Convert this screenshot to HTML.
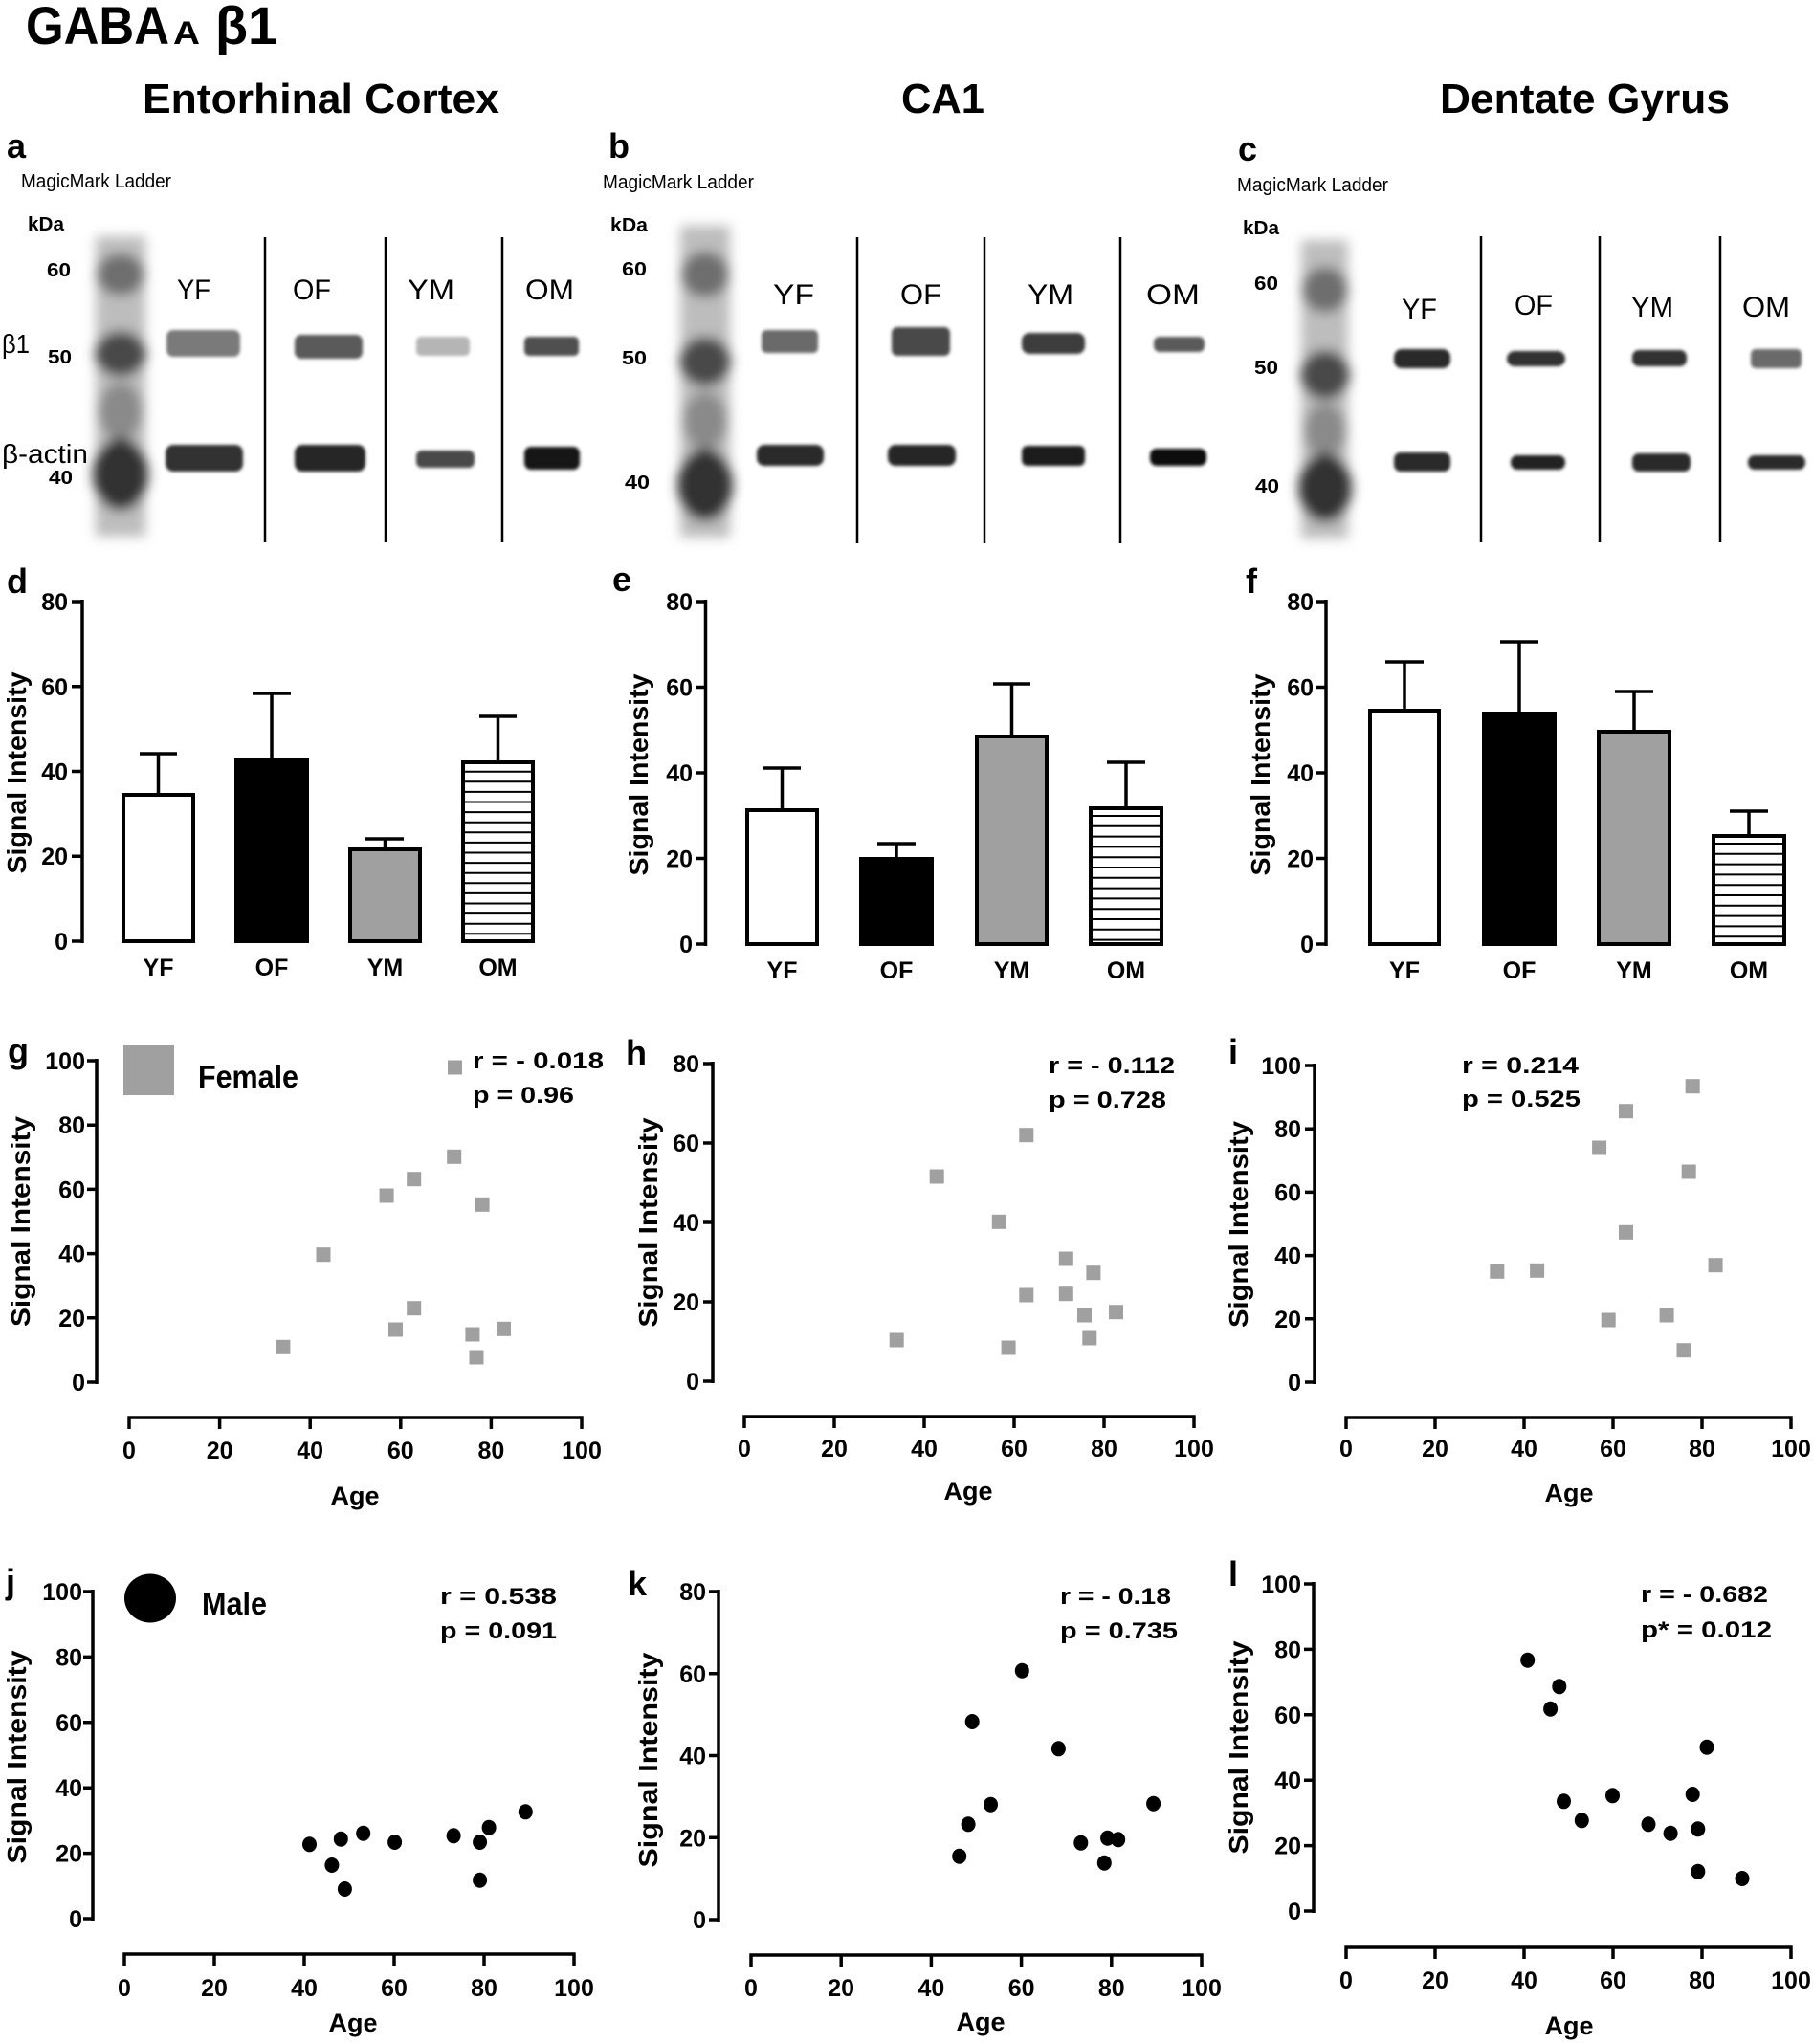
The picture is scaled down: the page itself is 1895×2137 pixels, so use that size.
<!DOCTYPE html>
<html><head><meta charset="utf-8">
<style>
html,body{margin:0;padding:0;background:#fff;}
svg{display:block;}
text{font-family:"Liberation Sans",Arial,sans-serif;fill:#000;}
.tkr{font-weight:bold;font-size:25px;text-anchor:end;}
.tkm{font-weight:bold;font-size:25px;text-anchor:middle;}
.yt{font-weight:bold;font-size:28px;text-anchor:middle;}
.age{font-weight:bold;font-size:27px;text-anchor:middle;}
.st{font-weight:bold;font-size:24px;}
.pl{font-weight:bold;font-size:36px;}
.ln{font-size:30px;}
.mm{font-size:20px;}
.kd{font-weight:bold;font-size:20px;}
.ax{stroke:#000;stroke-width:3.5;fill:none;}
.dv{stroke:#000;stroke-width:2.5;}
.bar{stroke:#000;stroke-width:4;}
.sq{fill:#a0a0a0;}
</style></head><body>
<svg width="1895" height="2137" viewBox="0 0 1895 2137" xmlns="http://www.w3.org/2000/svg">
<defs>
<filter id="bl6" x="-60%" y="-20%" width="220%" height="140%"><feGaussianBlur stdDeviation="6"/></filter>
<filter id="bl2" x="-20%" y="-60%" width="140%" height="220%"><feGaussianBlur stdDeviation="1.5"/></filter>
</defs>
<rect width="1895" height="2137" fill="#fff"/>

<!-- Title -->
<text x="27" y="46" font-weight="bold" font-size="56" textLength="150" lengthAdjust="spacingAndGlyphs">GABA</text>
<text x="181" y="46" font-weight="bold" font-size="34" textLength="28" lengthAdjust="spacingAndGlyphs">A</text>
<text x="225" y="46" font-weight="bold" font-size="56" textLength="65" lengthAdjust="spacingAndGlyphs">β1</text>

<text x="149" y="118" font-weight="bold" font-size="44" textLength="373" lengthAdjust="spacingAndGlyphs">Entorhinal Cortex</text>
<text x="942" y="118" font-weight="bold" font-size="44" textLength="87" lengthAdjust="spacingAndGlyphs">CA1</text>
<text x="1505" y="118" font-weight="bold" font-size="44" textLength="303" lengthAdjust="spacingAndGlyphs">Dentate Gyrus</text>

<!-- ===== Panel a blot ===== -->
<text class="pl" x="7" y="165">a</text>
<text class="mm" x="22" y="196" textLength="157" lengthAdjust="spacingAndGlyphs">MagicMark Ladder</text>
<text class="kd" x="29" y="241" textLength="38" lengthAdjust="spacingAndGlyphs">kDa</text>
<text class="kd" x="49" y="289" textLength="25" lengthAdjust="spacingAndGlyphs">60</text>
<text class="kd" x="50" y="380" textLength="25" lengthAdjust="spacingAndGlyphs">50</text>
<text class="kd" x="51" y="506" textLength="25" lengthAdjust="spacingAndGlyphs">40</text>
<text x="2" y="369" font-size="28" textLength="29" lengthAdjust="spacingAndGlyphs">β1</text>
<text x="2" y="484" font-size="28" textLength="90" lengthAdjust="spacingAndGlyphs">β-actin</text>
<g filter="url(#bl6)">
<rect x="100" y="247" width="52" height="314" fill="#bdbdbd"/>
<ellipse cx="126" cy="287" rx="25" ry="22" fill="#6e6e6e"/>
<ellipse cx="126" cy="370" rx="27" ry="24" fill="#4a4a4a"/>
<ellipse cx="126" cy="430" rx="23" ry="30" fill="#8a8a8a"/>
<ellipse cx="126" cy="496" rx="29" ry="38" fill="#333"/>
</g>
<text class="ln" x="185" y="313" textLength="35" lengthAdjust="spacingAndGlyphs">YF</text>
<text class="ln" x="306" y="313" textLength="40" lengthAdjust="spacingAndGlyphs">OF</text>
<text class="ln" x="426" y="313" textLength="49" lengthAdjust="spacingAndGlyphs">YM</text>
<text class="ln" x="549" y="313" textLength="51" lengthAdjust="spacingAndGlyphs">OM</text>
<line class="dv" x1="277" y1="248" x2="277" y2="567"/>
<line class="dv" x1="403" y1="248" x2="403" y2="567"/>
<line class="dv" x1="525" y1="248" x2="525" y2="567"/>
<g filter="url(#bl2)">
<rect x="174" y="345" width="77" height="28" rx="7" fill="#7a7a7a"/>
<rect x="308" y="350" width="71" height="25" rx="7" fill="#5a5a5a"/>
<rect x="435" y="352" width="56" height="20" rx="5" fill="#b5b5b5"/>
<rect x="548" y="352" width="57" height="20" rx="5" fill="#505050"/>
<rect x="173" y="465" width="81" height="28" rx="8" fill="#333"/>
<rect x="308" y="465" width="74" height="28" rx="8" fill="#262626"/>
<rect x="435" y="471" width="61" height="18" rx="6" fill="#4a4a4a"/>
<rect x="548" y="467" width="58" height="24" rx="7" fill="#141414"/>
</g>

<!-- ===== Panel b blot ===== -->
<text class="pl" x="636" y="165">b</text>
<text class="mm" x="630" y="197" textLength="158" lengthAdjust="spacingAndGlyphs">MagicMark Ladder</text>
<text class="kd" x="638" y="242" textLength="39" lengthAdjust="spacingAndGlyphs">kDa</text>
<text class="kd" x="650" y="288" textLength="26" lengthAdjust="spacingAndGlyphs">60</text>
<text class="kd" x="650" y="381" textLength="26" lengthAdjust="spacingAndGlyphs">50</text>
<text class="kd" x="653" y="511" textLength="26" lengthAdjust="spacingAndGlyphs">40</text>
<g filter="url(#bl6)">
<rect x="711" y="236" width="52" height="326" fill="#bdbdbd"/>
<ellipse cx="737" cy="287" rx="25" ry="24" fill="#6e6e6e"/>
<ellipse cx="737" cy="378" rx="27" ry="26" fill="#4a4a4a"/>
<ellipse cx="737" cy="440" rx="23" ry="30" fill="#8a8a8a"/>
<ellipse cx="737" cy="507" rx="29" ry="38" fill="#333"/>
</g>
<text class="ln" x="808" y="318" textLength="43" lengthAdjust="spacingAndGlyphs">YF</text>
<text class="ln" x="941" y="318" textLength="43" lengthAdjust="spacingAndGlyphs">OF</text>
<text class="ln" x="1074" y="318" textLength="48" lengthAdjust="spacingAndGlyphs">YM</text>
<text class="ln" x="1198" y="318" textLength="56" lengthAdjust="spacingAndGlyphs">OM</text>
<line class="dv" x1="896" y1="248" x2="896" y2="568"/>
<line class="dv" x1="1029" y1="248" x2="1029" y2="568"/>
<line class="dv" x1="1171" y1="248" x2="1171" y2="568"/>
<g filter="url(#bl2)">
<rect x="796" y="345" width="59" height="24" rx="5" fill="#6a6a6a"/>
<rect x="932" y="342" width="61" height="30" rx="6" fill="#4a4a4a"/>
<rect x="1068" y="348" width="66" height="22" rx="8" fill="#3c3c3c"/>
<rect x="1206" y="352" width="53" height="16" rx="6" fill="#5a5a5a"/>
<rect x="791" y="465" width="70" height="22" rx="8" fill="#2c2c2c"/>
<rect x="928" y="465" width="71" height="22" rx="8" fill="#262626"/>
<rect x="1068" y="466" width="66" height="21" rx="6" fill="#1e1e1e"/>
<rect x="1202" y="469" width="59" height="18" rx="7" fill="#0e0e0e"/>
</g>

<!-- ===== Panel c blot ===== -->
<text class="pl" x="1294" y="168">c</text>
<text class="mm" x="1293" y="200" textLength="158" lengthAdjust="spacingAndGlyphs">MagicMark Ladder</text>
<text class="kd" x="1299" y="245" textLength="38" lengthAdjust="spacingAndGlyphs">kDa</text>
<text class="kd" x="1311" y="303" textLength="25" lengthAdjust="spacingAndGlyphs">60</text>
<text class="kd" x="1311" y="391" textLength="25" lengthAdjust="spacingAndGlyphs">50</text>
<text class="kd" x="1312" y="515" textLength="25" lengthAdjust="spacingAndGlyphs">40</text>
<g filter="url(#bl6)">
<rect x="1360" y="251" width="49" height="312" fill="#bdbdbd"/>
<ellipse cx="1385" cy="303" rx="24" ry="24" fill="#6e6e6e"/>
<ellipse cx="1385" cy="392" rx="26" ry="26" fill="#4a4a4a"/>
<ellipse cx="1385" cy="450" rx="22" ry="28" fill="#8a8a8a"/>
<ellipse cx="1385" cy="510" rx="28" ry="36" fill="#333"/>
</g>
<text class="ln" x="1465" y="333" textLength="37" lengthAdjust="spacingAndGlyphs">YF</text>
<text class="ln" x="1583" y="329" textLength="40" lengthAdjust="spacingAndGlyphs">OF</text>
<text class="ln" x="1705" y="331" textLength="44" lengthAdjust="spacingAndGlyphs">YM</text>
<text class="ln" x="1821" y="331" textLength="50" lengthAdjust="spacingAndGlyphs">OM</text>
<line class="dv" x1="1548" y1="247" x2="1548" y2="567"/>
<line class="dv" x1="1672" y1="247" x2="1672" y2="567"/>
<line class="dv" x1="1798" y1="247" x2="1798" y2="567"/>
<g filter="url(#bl2)">
<rect x="1457" y="365" width="59" height="20" rx="8" fill="#2a2a2a"/>
<rect x="1575" y="367" width="61" height="16" rx="8" fill="#333"/>
<rect x="1706" y="366" width="57" height="17" rx="7" fill="#333"/>
<rect x="1830" y="365" width="53" height="20" rx="5" fill="#6a6a6a"/>
<rect x="1457" y="473" width="59" height="20" rx="7" fill="#2a2a2a"/>
<rect x="1579" y="476" width="57" height="15" rx="7" fill="#222"/>
<rect x="1706" y="474" width="61" height="19" rx="7" fill="#2a2a2a"/>
<rect x="1827" y="476" width="60" height="15" rx="7" fill="#2a2a2a"/>
</g>

<!-- ===== Panel d bars ===== -->
<text class="pl" x="7" y="620">d</text>
<text class="yt" transform="translate(27,808) rotate(-90)" textLength="211" lengthAdjust="spacingAndGlyphs">Signal Intensity</text>
<path class="ax" d="M86 627 V986 M75 984 H86 M75 895.25 H86 M75 806.5 H86 M75 717.75 H86 M75 629 H86"/>
<text class="tkr" x="71" y="993">0</text>
<text class="tkr" x="71" y="904">20</text>
<text class="tkr" x="71" y="815.5">40</text>
<text class="tkr" x="71" y="727">60</text>
<text class="tkr" x="71" y="638">80</text>
<path class="ax" d="M165.5 829 V788 M146 788 H185 M284 792 V725 M264 725 H304 M402.5 886 V877 M382 877 H422 M520.5 795 V749 M501 749 H540"/>
<rect class="bar" x="129" y="831" width="73" height="153" fill="#fff"/>
<rect class="bar" x="247" y="794" width="74" height="190" fill="#000"/>
<rect class="bar" x="366" y="888" width="73" height="96" fill="#a0a0a0"/>
<rect class="bar" x="484" y="797" width="73" height="187" fill="#fff"/>
<path stroke="#000" stroke-width="2" d="M484 806.7H557M484 817.3H557M484 827.9H557M484 838.5H557M484 849.1H557M484 859.7H557M484 870.3H557M484 880.9H557M484 891.5H557M484 902.1H557M484 912.7H557M484 923.3H557M484 933.9H557M484 944.5H557M484 955.1H557M484 965.7H557M484 976.3H557"/>
<text class="tkm" x="165.5" y="1020">YF</text>
<text class="tkm" x="284" y="1020">OF</text>
<text class="tkm" x="402.5" y="1020">YM</text>
<text class="tkm" x="520.5" y="1020">OM</text>

<!-- ===== Panel e bars ===== -->
<text class="pl" x="640" y="618">e</text>
<text class="yt" transform="translate(677,810) rotate(-90)" textLength="211" lengthAdjust="spacingAndGlyphs">Signal Intensity</text>
<path class="ax" d="M737.5 627 V989 M727 987 H737.5 M727 897.5 H737.5 M727 808 H737.5 M727 718.5 H737.5 M727 629 H737.5"/>
<text class="tkr" x="724" y="996">0</text>
<text class="tkr" x="724" y="906.5">20</text>
<text class="tkr" x="724" y="817">40</text>
<text class="tkr" x="724" y="727.5">60</text>
<text class="tkr" x="724" y="638">80</text>
<path class="ax" d="M817.5 845 V803 M798 803 H837 M937 896 V882 M917 882 H957 M1057.5 768 V715 M1038 715 H1077 M1177 843 V797 M1157 797 H1197"/>
<rect class="bar" x="781" y="847" width="73" height="140" fill="#fff"/>
<rect class="bar" x="900" y="898" width="74" height="89" fill="#000"/>
<rect class="bar" x="1021" y="770" width="73" height="217" fill="#a0a0a0"/>
<rect class="bar" x="1140" y="845" width="74" height="142" fill="#fff"/>
<path stroke="#000" stroke-width="2" d="M1140 853H1214M1140 863.8H1214M1140 874.6H1214M1140 885.4H1214M1140 896.2H1214M1140 907H1214M1140 917.8H1214M1140 928.6H1214M1140 939.4H1214M1140 950.2H1214M1140 961H1214M1140 971.8H1214M1140 982.6H1214"/>
<text class="tkm" x="817.5" y="1023">YF</text>
<text class="tkm" x="937" y="1023">OF</text>
<text class="tkm" x="1057.5" y="1023">YM</text>
<text class="tkm" x="1177" y="1023">OM</text>

<!-- ===== Panel f bars ===== -->
<text class="pl" x="1302" y="620">f</text>
<text class="yt" transform="translate(1327,810) rotate(-90)" textLength="211" lengthAdjust="spacingAndGlyphs">Signal Intensity</text>
<path class="ax" d="M1386 627 V989 M1376 987 H1386 M1376 897.5 H1386 M1376 808 H1386 M1376 718.5 H1386 M1376 629 H1386"/>
<text class="tkr" x="1373" y="996">0</text>
<text class="tkr" x="1373" y="906.5">20</text>
<text class="tkr" x="1373" y="817">40</text>
<text class="tkr" x="1373" y="727.5">60</text>
<text class="tkr" x="1373" y="638">80</text>
<path class="ax" d="M1468 741 V692 M1448 692 H1488 M1588 744 V671 M1568 671 H1608 M1708 763 V723 M1688 723 H1728 M1828 872 V848 M1808 848 H1848"/>
<rect class="bar" x="1432" y="743" width="72" height="244" fill="#fff"/>
<rect class="bar" x="1551" y="746" width="74" height="241" fill="#000"/>
<rect class="bar" x="1671" y="765" width="74" height="222" fill="#a0a0a0"/>
<rect class="bar" x="1791" y="874" width="74" height="113" fill="#fff"/>
<path stroke="#000" stroke-width="2" d="M1791 882H1865M1791 892.8H1865M1791 903.6H1865M1791 914.4H1865M1791 925.2H1865M1791 936H1865M1791 946.8H1865M1791 957.6H1865M1791 968.4H1865M1791 979.2H1865"/>
<text class="tkm" x="1468" y="1023">YF</text>
<text class="tkm" x="1588" y="1023">OF</text>
<text class="tkm" x="1708" y="1023">YM</text>
<text class="tkm" x="1828" y="1023">OM</text>

<!-- ===== Panel g scatter ===== -->
<text class="pl" x="8" y="1111">g</text>
<text class="yt" transform="translate(31,1277) rotate(-90)" textLength="220" lengthAdjust="spacingAndGlyphs">Signal Intensity</text>
<path class="ax" d="M101 1107 V1447 M91 1445 H101 M91 1377.8 H101 M91 1310.6 H101 M91 1243.4 H101 M91 1176.2 H101 M91 1109 H101"/>
<text class="tkr" x="89" y="1454">0</text>
<text class="tkr" x="89" y="1386.8">20</text>
<text class="tkr" x="89" y="1319.6">40</text>
<text class="tkr" x="89" y="1252.4">60</text>
<text class="tkr" x="89" y="1185.2">80</text>
<text class="tkr" x="89" y="1118">100</text>
<path class="ax" d="M133.3 1482 H609.7 M135 1482 V1494 M229.6 1482 V1494 M324.2 1482 V1494 M418.8 1482 V1494 M513.4 1482 V1494 M608 1482 V1494"/>
<text class="tkm" x="135" y="1525">0</text>
<text class="tkm" x="229.6" y="1525">20</text>
<text class="tkm" x="324.2" y="1525">40</text>
<text class="tkm" x="418.8" y="1525">60</text>
<text class="tkm" x="513.4" y="1525">80</text>
<text class="tkm" x="608" y="1525">100</text>
<text class="age" x="371" y="1573">Age</text>
<rect class="sq" x="129" y="1093" width="53" height="52"/>
<text x="207" y="1137" font-weight="bold" font-size="33" textLength="105" lengthAdjust="spacingAndGlyphs">Female</text>
<text class="st" x="494" y="1117" textLength="137" lengthAdjust="spacingAndGlyphs">r = - 0.018</text>
<text class="st" x="494" y="1153" textLength="106" lengthAdjust="spacingAndGlyphs">p = 0.96</text>
<g class="sq">
<rect x="468" y="1108.5" width="15" height="15"/>
<rect x="467.2" y="1201.8" width="15" height="15"/>
<rect x="425.2" y="1225.2" width="15" height="15"/>
<rect x="396.6" y="1242.5" width="15" height="15"/>
<rect x="496.6" y="1251.8" width="15" height="15"/>
<rect x="330.5" y="1304.2" width="15" height="15"/>
<rect x="425.2" y="1360.2" width="15" height="15"/>
<rect x="406" y="1382.5" width="15" height="15"/>
<rect x="519" y="1381.8" width="15" height="15"/>
<rect x="486.4" y="1387.5" width="15" height="15"/>
<rect x="288.4" y="1400.8" width="15" height="15"/>
<rect x="490.5" y="1411.5" width="15" height="15"/>
</g>

<!-- ===== Panel h scatter ===== -->
<text class="pl" x="654" y="1113">h</text>
<text class="yt" transform="translate(687,1278) rotate(-90)" textLength="219" lengthAdjust="spacingAndGlyphs">Signal Intensity</text>
<path class="ax" d="M745 1110 V1446 M735 1444 H745 M735 1361 H745 M735 1278 H745 M735 1195 H745 M735 1112 H745"/>
<text class="tkr" x="731" y="1453">0</text>
<text class="tkr" x="731" y="1370">20</text>
<text class="tkr" x="731" y="1287">40</text>
<text class="tkr" x="731" y="1204">60</text>
<text class="tkr" x="731" y="1121">80</text>
<path class="ax" d="M776.3 1481 H1249.7 M778 1481 V1493 M872 1481 V1493 M966 1481 V1493 M1060 1481 V1493 M1154 1481 V1493 M1248 1481 V1493"/>
<text class="tkm" x="778" y="1523">0</text>
<text class="tkm" x="872" y="1523">20</text>
<text class="tkm" x="966" y="1523">40</text>
<text class="tkm" x="1060" y="1523">60</text>
<text class="tkm" x="1154" y="1523">80</text>
<text class="tkm" x="1248" y="1523">100</text>
<text class="age" x="1012" y="1568">Age</text>
<text class="st" x="1096" y="1122" textLength="132" lengthAdjust="spacingAndGlyphs">r = - 0.112</text>
<text class="st" x="1096" y="1158" textLength="123" lengthAdjust="spacingAndGlyphs">p = 0.728</text>
<g class="sq">
<rect x="1065.3" y="1179.2" width="15" height="15"/>
<rect x="971.7" y="1222.5" width="15" height="15"/>
<rect x="1036.8" y="1269.8" width="15" height="15"/>
<rect x="1106.8" y="1308.5" width="15" height="15"/>
<rect x="1135.4" y="1323.2" width="15" height="15"/>
<rect x="1065.3" y="1346.5" width="15" height="15"/>
<rect x="1106.8" y="1345.2" width="15" height="15"/>
<rect x="1126" y="1367.5" width="15" height="15"/>
<rect x="1159" y="1364.2" width="15" height="15"/>
<rect x="1131.3" y="1391.5" width="15" height="15"/>
<rect x="929.7" y="1393.5" width="15" height="15"/>
<rect x="1046.6" y="1401.5" width="15" height="15"/>
</g>

<!-- ===== Panel i scatter ===== -->
<text class="pl" x="1284" y="1112">i</text>
<text class="yt" transform="translate(1304,1280) rotate(-90)" textLength="216" lengthAdjust="spacingAndGlyphs">Signal Intensity</text>
<path class="ax" d="M1374 1112 V1447 M1364 1445 H1374 M1364 1378.8 H1374 M1364 1312.6 H1374 M1364 1246.4 H1374 M1364 1180.2 H1374 M1364 1114 H1374"/>
<text class="tkr" x="1360" y="1454">0</text>
<text class="tkr" x="1360" y="1387.8">20</text>
<text class="tkr" x="1360" y="1321.6">40</text>
<text class="tkr" x="1360" y="1255.4">60</text>
<text class="tkr" x="1360" y="1189.2">80</text>
<text class="tkr" x="1360" y="1123">100</text>
<path class="ax" d="M1405.3 1482 H1873.7 M1407 1482 V1494 M1500 1482 V1494 M1593 1482 V1494 M1686 1482 V1494 M1779 1482 V1494 M1872 1482 V1494"/>
<text class="tkm" x="1407" y="1523">0</text>
<text class="tkm" x="1500" y="1523">20</text>
<text class="tkm" x="1593" y="1523">40</text>
<text class="tkm" x="1686" y="1523">60</text>
<text class="tkm" x="1779" y="1523">80</text>
<text class="tkm" x="1872" y="1523">100</text>
<text class="age" x="1640" y="1570">Age</text>
<text class="st" x="1528" y="1122" textLength="122" lengthAdjust="spacingAndGlyphs">r =  0.214</text>
<text class="st" x="1528" y="1157" textLength="124" lengthAdjust="spacingAndGlyphs">p = 0.525</text>
<g class="sq">
<rect x="1761.7" y="1128.2" width="15" height="15"/>
<rect x="1692" y="1154.2" width="15" height="15"/>
<rect x="1664.1" y="1192.5" width="15" height="15"/>
<rect x="1757.7" y="1217.5" width="15" height="15"/>
<rect x="1692" y="1280.8" width="15" height="15"/>
<rect x="1785.6" y="1315.2" width="15" height="15"/>
<rect x="1557.3" y="1321.8" width="15" height="15"/>
<rect x="1599.1" y="1320.8" width="15" height="15"/>
<rect x="1673.7" y="1372.5" width="15" height="15"/>
<rect x="1734.6" y="1367.5" width="15" height="15"/>
<rect x="1752.5" y="1404.2" width="15" height="15"/>
</g>

<!-- ===== Panel j scatter ===== -->
<text class="pl" x="6" y="1666">j</text>
<text class="yt" transform="translate(27,1837) rotate(-90)" textLength="223" lengthAdjust="spacingAndGlyphs">Signal Intensity</text>
<path class="ax" d="M97 1662 V2008 M87 2006 H97 M87 1937.6 H97 M87 1869.2 H97 M87 1800.8 H97 M87 1732.4 H97 M87 1664 H97"/>
<text class="tkr" x="86" y="2015">0</text>
<text class="tkr" x="86" y="1946.6">20</text>
<text class="tkr" x="86" y="1878.2">40</text>
<text class="tkr" x="86" y="1809.8">60</text>
<text class="tkr" x="86" y="1741.4">80</text>
<text class="tkr" x="86" y="1673">100</text>
<path class="ax" d="M128.3 2043 H601.7 M130 2043 V2055 M224 2043 V2055 M318 2043 V2055 M412 2043 V2055 M506 2043 V2055 M600 2043 V2055"/>
<text class="tkm" x="130" y="2087">0</text>
<text class="tkm" x="224" y="2087">20</text>
<text class="tkm" x="318" y="2087">40</text>
<text class="tkm" x="412" y="2087">60</text>
<text class="tkm" x="506" y="2087">80</text>
<text class="tkm" x="600" y="2087">100</text>
<text class="age" x="369" y="2124">Age</text>
<ellipse cx="157" cy="1671" rx="27" ry="25.5" fill="#000"/>
<text x="211" y="1688" font-weight="bold" font-size="33" textLength="68" lengthAdjust="spacingAndGlyphs">Male</text>
<text class="st" x="460" y="1677" textLength="122" lengthAdjust="spacingAndGlyphs">r =  0.538</text>
<text class="st" x="460" y="1713" textLength="122" lengthAdjust="spacingAndGlyphs">p = 0.091</text>
<g fill="#000">
<ellipse cx="323.5" cy="1928.3" rx="7.5" ry="8"/>
<ellipse cx="356.3" cy="1922.7" rx="7.5" ry="8"/>
<ellipse cx="379.7" cy="1916.7" rx="7.5" ry="8"/>
<ellipse cx="412.6" cy="1926" rx="7.5" ry="8"/>
<ellipse cx="346.9" cy="1950" rx="7.5" ry="8"/>
<ellipse cx="360.4" cy="1975" rx="7.5" ry="8"/>
<ellipse cx="474.1" cy="1919.3" rx="7.5" ry="8"/>
<ellipse cx="501.6" cy="1926" rx="7.5" ry="8"/>
<ellipse cx="511.1" cy="1910.7" rx="7.5" ry="8"/>
<ellipse cx="549.3" cy="1894.3" rx="7.5" ry="8"/>
<ellipse cx="501.6" cy="1965.7" rx="7.5" ry="8"/>
</g>

<!-- ===== Panel k scatter ===== -->
<text class="pl" x="656" y="1668">k</text>
<text class="yt" transform="translate(687,1840) rotate(-90)" textLength="225" lengthAdjust="spacingAndGlyphs">Signal Intensity</text>
<path class="ax" d="M751 1662 V2009 M741 2007 H751 M741 1921.25 H751 M741 1835.5 H751 M741 1749.75 H751 M741 1664 H751"/>
<text class="tkr" x="738" y="2016">0</text>
<text class="tkr" x="738" y="1930.25">20</text>
<text class="tkr" x="738" y="1844.5">40</text>
<text class="tkr" x="738" y="1758.75">60</text>
<text class="tkr" x="738" y="1673">80</text>
<path class="ax" d="M783.3 2044 H1257.7 M785 2044 V2056 M879.2 2044 V2056 M973.4 2044 V2056 M1067.6 2044 V2056 M1161.8 2044 V2056 M1256 2044 V2056"/>
<text class="tkm" x="785" y="2087">0</text>
<text class="tkm" x="879.2" y="2087">20</text>
<text class="tkm" x="973.4" y="2087">40</text>
<text class="tkm" x="1067.6" y="2087">60</text>
<text class="tkm" x="1161.8" y="2087">80</text>
<text class="tkm" x="1256" y="2087">100</text>
<text class="age" x="1025" y="2123">Age</text>
<text class="st" x="1108" y="1677" textLength="116" lengthAdjust="spacingAndGlyphs">r = - 0.18</text>
<text class="st" x="1108" y="1713" textLength="123" lengthAdjust="spacingAndGlyphs">p = 0.735</text>
<g fill="#000">
<ellipse cx="1068.3" cy="1746.7" rx="7.5" ry="8"/>
<ellipse cx="1016.2" cy="1800" rx="7.5" ry="8"/>
<ellipse cx="1106.4" cy="1828.3" rx="7.5" ry="8"/>
<ellipse cx="1035.5" cy="1886.7" rx="7.5" ry="8"/>
<ellipse cx="1012.1" cy="1907.3" rx="7.5" ry="8"/>
<ellipse cx="1002.7" cy="1940.7" rx="7.5" ry="8"/>
<ellipse cx="1129.8" cy="1926.7" rx="7.5" ry="8"/>
<ellipse cx="1157.6" cy="1921.7" rx="7.5" ry="8"/>
<ellipse cx="1168.7" cy="1923.3" rx="7.5" ry="8"/>
<ellipse cx="1154.3" cy="1947.7" rx="7.5" ry="8"/>
<ellipse cx="1205.6" cy="1885.7" rx="7.5" ry="8"/>
</g>

<!-- ===== Panel l scatter ===== -->
<text class="pl" x="1284" y="1658">l</text>
<text class="yt" transform="translate(1304,1827) rotate(-90)" textLength="223" lengthAdjust="spacingAndGlyphs">Signal Intensity</text>
<path class="ax" d="M1373 1654 V2000 M1363 1998 H1373 M1363 1929.6 H1373 M1363 1861.2 H1373 M1363 1792.8 H1373 M1363 1724.4 H1373 M1363 1656 H1373"/>
<text class="tkr" x="1360" y="2007">0</text>
<text class="tkr" x="1360" y="1938.6">20</text>
<text class="tkr" x="1360" y="1870.2">40</text>
<text class="tkr" x="1360" y="1801.8">60</text>
<text class="tkr" x="1360" y="1733.4">80</text>
<text class="tkr" x="1360" y="1665">100</text>
<path class="ax" d="M1405.3 2036 H1873.7 M1407 2036 V2048 M1500 2036 V2048 M1593 2036 V2048 M1686 2036 V2048 M1779 2036 V2048 M1872 2036 V2048"/>
<text class="tkm" x="1407" y="2079">0</text>
<text class="tkm" x="1500" y="2079">20</text>
<text class="tkm" x="1593" y="2079">40</text>
<text class="tkm" x="1686" y="2079">60</text>
<text class="tkm" x="1779" y="2079">80</text>
<text class="tkm" x="1872" y="2079">100</text>
<text class="age" x="1640" y="2127">Age</text>
<text class="st" x="1715" y="1675" textLength="133" lengthAdjust="spacingAndGlyphs">r = - 0.682</text>
<text class="st" x="1715" y="1712" textLength="137" lengthAdjust="spacingAndGlyphs">p* = 0.012</text>
<g fill="#000">
<ellipse cx="1596.7" cy="1735.7" rx="7.5" ry="8"/>
<ellipse cx="1629.8" cy="1763.3" rx="7.5" ry="8"/>
<ellipse cx="1620.6" cy="1786.7" rx="7.5" ry="8"/>
<ellipse cx="1784" cy="1826.7" rx="7.5" ry="8"/>
<ellipse cx="1634.5" cy="1883.3" rx="7.5" ry="8"/>
<ellipse cx="1685.5" cy="1877.3" rx="7.5" ry="8"/>
<ellipse cx="1769.2" cy="1876" rx="7.5" ry="8"/>
<ellipse cx="1653.3" cy="1903.3" rx="7.5" ry="8"/>
<ellipse cx="1723" cy="1907.3" rx="7.5" ry="8"/>
<ellipse cx="1746.1" cy="1916.7" rx="7.5" ry="8"/>
<ellipse cx="1774.8" cy="1912.3" rx="7.5" ry="8"/>
<ellipse cx="1774.8" cy="1956.7" rx="7.5" ry="8"/>
<ellipse cx="1821" cy="1964" rx="7.5" ry="8"/>
</g>
</svg>
</body></html>
